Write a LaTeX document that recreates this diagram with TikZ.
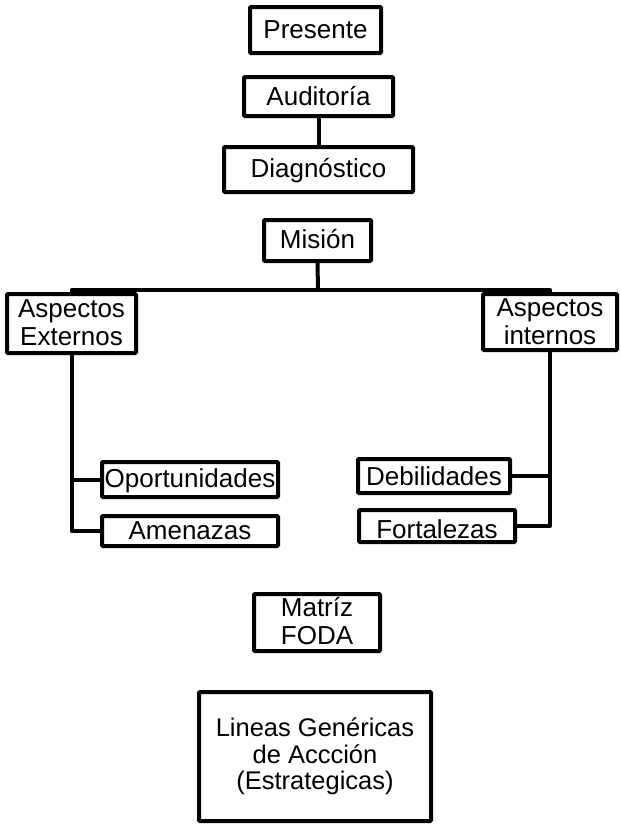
\documentclass[tikz,border=0pt]{standalone}
\usepackage{fontspec}
\setmainfont{Liberation Sans}
% multi-line label whose reference point is the baseline of its last line
\newcommand{\lines}[1]{\begin{tabular}[b]{@{}c@{}}#1\end{tabular}}
\begin{document}
\begin{tikzpicture}[x=1pt,y=-1pt,
  box/.style={draw=black,line width=4pt,rounded corners=1pt,fill=white,
    inner sep=0pt,align=center,text depth=0pt,
    font=\fontsize{26}{28}\selectfont},
  link/.style={draw=black,line width=4pt,line join=round}]
\useasboundingbox (0,0) rectangle (621,825);

% top chain
\node[box,minimum width=131pt,minimum height=46pt,text height=16pt] (pres) at (315.5,30) {Presente};
\node[box,minimum width=149pt,minimum height=39pt,text height=17pt] (aud) at (318.5,96.5) {Auditoría};
\node[box,minimum width=189pt,minimum height=45pt,text height=15pt] (diag) at (318.5,169.5) {Diagnóstico};
\node[box,minimum width=107pt,minimum height=41pt,text height=15pt] (mis) at (317.5,240.5) {Misión};

% external / internal aspects
\node[box,minimum width=129pt,minimum height=59pt,text height=43pt] (ext) at (71.5,323.5) {\lines{Aspectos\\Externos}};
\node[box,minimum width=134pt,minimum height=56pt,text height=44pt] (int) at (550,322) {\lines{Aspectos\\internos}};

\node[box,minimum width=176pt,minimum height=35pt,text height=15pt] (opo) at (190,479.5) {Oportunidades};
\node[box,minimum width=176pt,minimum height=30pt,text height=16pt] (ame) at (190,531) {Amenazas};
\node[box,minimum width=152pt,minimum height=34pt,text height=18pt] (deb) at (434,476) {Debilidades};
\node[box,minimum width=156pt,minimum height=32pt,text height=24pt] (fort) at (437,526) {Fortalezas};

% results
\node[box,minimum width=126pt,minimum height=57pt,text height=43pt] (foda) at (317,622.5) {\lines{Matríz\\FODA}};
\node[box,minimum width=232pt,minimum height=129pt,text height=66pt,
  font=\fontsize{25.5}{25.5}\selectfont] (lin) at (315,756.5) {\lines{Lineas Genéricas\\de Accción\\(Estrategicas)}};

\coordinate (hbar) at (318,290);

% connectors
\draw[link] (aud.south) -- (diag.north);
\draw[link] (mis.south) -- (hbar);
\draw[link] (ext.north) |- (hbar) -| (int.north);
\draw[link] (ext.south) |- (ame.west);
\draw[link] (ext.south |- opo.west) -- (opo.west);
\draw[link] (int.south) |- (fort.east);
\draw[link] (int.south |- deb.east) -- (deb.east);
\end{tikzpicture}
\end{document}
